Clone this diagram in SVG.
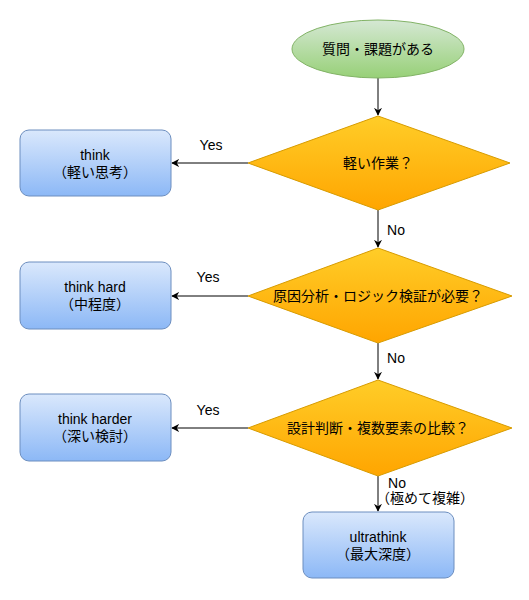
<svg xmlns="http://www.w3.org/2000/svg" width="529" height="600" viewBox="0 0 529 600">
<defs>
<linearGradient id="gGreen" x1="0" y1="0" x2="0" y2="1"><stop offset="0" stop-color="#d5e8d4"/><stop offset="1" stop-color="#97d077"/></linearGradient>
<linearGradient id="gOrange" x1="0" y1="0" x2="0" y2="1"><stop offset="0" stop-color="#ffcd28"/><stop offset="1" stop-color="#ffa500"/></linearGradient>
<linearGradient id="gBlue" x1="0" y1="0" x2="0" y2="1"><stop offset="0" stop-color="#dae8fc"/><stop offset="1" stop-color="#8cb8f6"/></linearGradient>
<marker id="arr" viewBox="0 0 10 10" refX="9" refY="5" markerWidth="8" markerHeight="8" orient="auto" markerUnits="userSpaceOnUse"><path d="M0,0 L10,5 L0,10 L3,5 Z" fill="#000"/></marker>
<style>
text{font-family:"Liberation Sans","Noto Sans CJK JP",sans-serif;font-size:14px;fill:#000;text-anchor:middle;dominant-baseline:central}
.box{fill:url(#gBlue);stroke:#6c8ebf;stroke-width:1}
.dia{fill:url(#gOrange);stroke:#d79b00;stroke-width:1}
.edge{stroke:#000;stroke-width:1;fill:none;marker-end:url(#arr)}
</style>
</defs>
<g id="connectors">
<path class="edge" d="M378,78 L378,115"/>
<path class="edge" d="M248,163 L172,163"/>
<path class="edge" d="M378,210 L378,247"/>
<path class="edge" d="M248,296 L172,296"/>
<path class="edge" d="M378,343 L378,379"/>
<path class="edge" d="M248,428 L172,428"/>
<path class="edge" d="M378,476 L378,511"/>
<text x="211" y="145">Yes</text>
<text x="208" y="277">Yes</text>
<text x="208" y="410">Yes</text>
<text x="396" y="230">No</text>
<text x="396" y="358">No</text>
<text x="397" y="483">No</text>
<text x="425" y="498">（極めて複雑）</text>
</g>
<g id="start">
<ellipse cx="378" cy="49" rx="86" ry="29" fill="url(#gGreen)" stroke="#82b366"/>
<text x="378" y="49">質問・課題がある</text>
</g>
<g id="q1">
<polygon class="dia" points="378,116 510,163 378,210 248,163"/>
<text x="378" y="163">軽い作業？</text>
</g>
<g id="q2">
<polygon class="dia" points="378,248 512,296 378,343 248,296"/>
<text x="378" y="296">原因分析・ロジック検証が必要？</text>
</g>
<g id="q3">
<polygon class="dia" points="378,380 512,428 378,476 248,428"/>
<text x="378" y="428">設計判断・複数要素の比較？</text>
</g>
<g id="think">
<rect class="box" x="20" y="130" width="151" height="66" rx="9"/>
<text x="95" y="155">think</text>
<text x="95" y="172">（軽い思考）</text>
</g>
<g id="thinkhard">
<rect class="box" x="20" y="262" width="151" height="67" rx="9"/>
<text x="95" y="287">think hard</text>
<text x="95" y="304">（中程度）</text>
</g>
<g id="thinkharder">
<rect class="box" x="20" y="394" width="151" height="67" rx="9"/>
<text x="95" y="419">think harder</text>
<text x="95" y="436">（深い検討）</text>
</g>
<g id="ultrathink">
<rect class="box" x="303" y="512" width="151" height="66" rx="9"/>
<text x="378" y="537">ultrathink</text>
<text x="378" y="554">（最大深度）</text>
</g>
</svg>
